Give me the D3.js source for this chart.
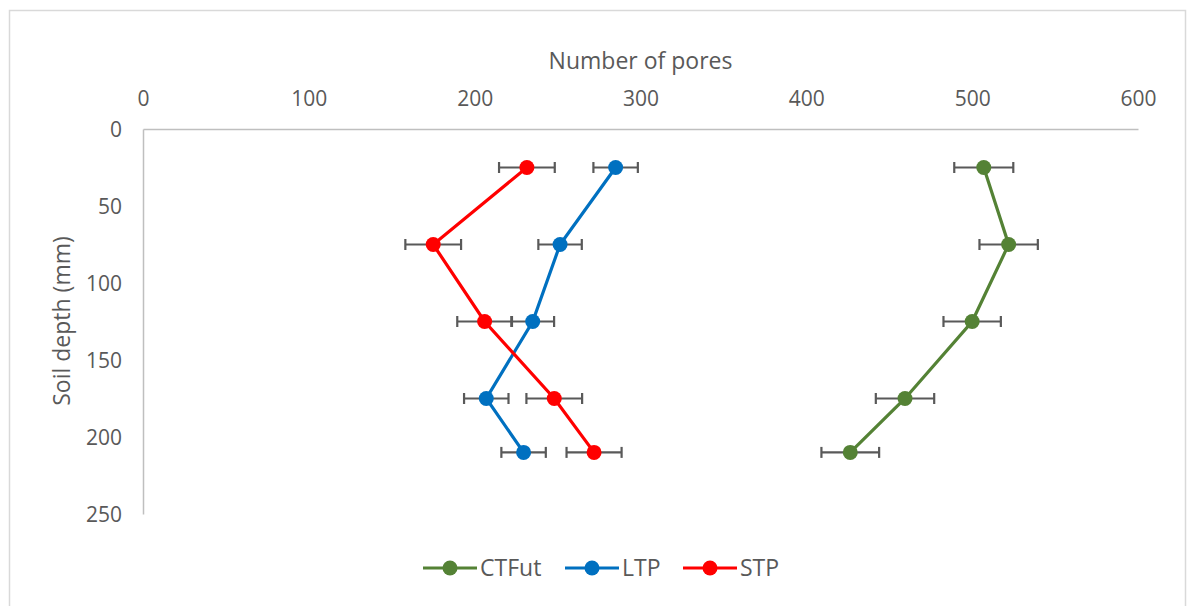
<!DOCTYPE html>
<html>
<head>
<meta charset="utf-8">
<script src="https://cdn.jsdelivr.net/npm/d3@7"></script>
<style>
  body { margin: 0; background: #fff; }
  svg text { font-family: "Open Sans", "Noto Sans", sans-serif; fill: #595959; }
</style>
</head>
<body>
<div id="chart"></div>
<script>
var depths = [25, 75, 125, 175, 210];
var ctfutValues = [507, 522, 500, 459.5, 426.5];
var ctfutErrors = [17.8, 17.6, 17.3, 17.6, 17.4];
var ltpValues = [285, 251.5, 235, 207, 229.5];
var ltpErrors = [13.4, 13.1, 12.9, 13.4, 13.4];
var stpValues = [231.5, 175, 206, 248, 272];
var stpErrors = [16.8, 16.8, 16.5, 16.8, 16.6];
var seriesNames = ["CTFut", "LTP", "STP"];
var seriesColors = ["#548235", "#0070c0", "#ff0000"];
var xTicks = [0, 100, 200, 300, 400, 500, 600];
var yTicks = [0, 50, 100, 150, 200, 250];

var W = 1192, H = 606;
var margin = {top: 129, left: 143, right: 54, bottom: 92};
var width = W - margin.left - margin.right,
    height = H - margin.top - margin.bottom;

var svg = d3.select("#chart").append("svg")
    .attr("width", W)
    .attr("height", H);

// chart frame
svg.append("rect")
    .attr("x", 9.5).attr("y", 10.5)
    .attr("width", 1176).attr("height", 600)
    .attr("fill", "none")
    .attr("stroke", "#d9d9d9")
    .attr("stroke-width", 1.5);

var g = svg.append("g")
    .attr("transform", "translate(" + margin.left + "," + margin.top + ")");

var xScale = d3.scaleLinear().domain([0, 600]).range([0, width]);
var yScale = d3.scaleLinear().domain([0, 250]).range([0, height]);

var xAxis = d3.axisTop(xScale).tickValues(xTicks).tickSize(0).tickPadding(23);
var yAxis = d3.axisLeft(yScale).tickValues(yTicks).tickSize(0).tickPadding(21);

var gx = g.append("g").attr("class", "axis axis--x").call(xAxis);
var gy = g.append("g").attr("class", "axis axis--y").call(yAxis);
[gx, gy].forEach(function(ax) {
    ax.select(".domain").attr("stroke", "#bfbfbf").attr("stroke-width", 1.5);
    ax.selectAll("text").style("font-size", "21px").attr("fill", "#595959")
        .style("font-family", "'Open Sans', sans-serif");
});
gy.selectAll("text").attr("dy", "0.35em");

g.append("text")
    .attr("x", width / 2)
    .attr("y", -60)
    .attr("text-anchor", "middle")
    .style("font-size", "23px")
    .text("Number of pores");

g.append("text")
    .attr("transform", "rotate(-90)")
    .attr("x", -192)
    .attr("y", -73)
    .attr("text-anchor", "middle")
    .style("font-size", "23px")
    .text("Soil depth (mm)");

var series = [
    {id: "CTFut", values: ctfutValues, errors: ctfutErrors},
    {id: "LTP", values: ltpValues, errors: ltpErrors},
    {id: "STP", values: stpValues, errors: stpErrors}
].map(function(s, i) {
    s.color = seriesColors[i];
    s.points = depths.map(function(d, j) {
        return {depth: d, value: s.values[j], err: s.errors[j]};
    });
    return s;
});

var line = d3.line()
    .x(function(d) { return xScale(d.value); })
    .y(function(d) { return yScale(d.depth); });

var capH = 5.5;
series.forEach(function(s) {
    var sg = g.append("g").attr("class", "series");
    var eb = sg.selectAll(".err").data(s.points).enter().append("g")
        .attr("class", "err")
        .attr("stroke", "#595959")
        .attr("stroke-width", 2.2);
    eb.append("line")
        .attr("x1", function(d) { return xScale(d.value - d.err); })
        .attr("x2", function(d) { return xScale(d.value + d.err); })
        .attr("y1", function(d) { return yScale(d.depth); })
        .attr("y2", function(d) { return yScale(d.depth); });
    eb.append("line")
        .attr("x1", function(d) { return xScale(d.value - d.err); })
        .attr("x2", function(d) { return xScale(d.value - d.err); })
        .attr("y1", function(d) { return yScale(d.depth) - capH; })
        .attr("y2", function(d) { return yScale(d.depth) + capH; });
    eb.append("line")
        .attr("x1", function(d) { return xScale(d.value + d.err); })
        .attr("x2", function(d) { return xScale(d.value + d.err); })
        .attr("y1", function(d) { return yScale(d.depth) - capH; })
        .attr("y2", function(d) { return yScale(d.depth) + capH; });

    sg.append("path")
        .attr("d", line(s.points))
        .attr("fill", "none")
        .attr("stroke", s.color)
        .attr("stroke-width", 3.2);
    sg.selectAll("circle").data(s.points).enter().append("circle")
        .attr("cx", function(d) { return xScale(d.value); })
        .attr("cy", function(d) { return yScale(d.depth); })
        .attr("r", 7.5)
        .attr("fill", s.color);
});

// legend
var legendX = [423, 565, 683];
var legend = svg.append("g").attr("class", "legend");
series.forEach(function(s, i) {
    var lg = legend.append("g").attr("transform", "translate(" + legendX[i] + ",568)");
    lg.append("line").attr("x1", 0).attr("x2", 54).attr("y1", 0).attr("y2", 0)
        .attr("stroke", s.color).attr("stroke-width", 3.2);
    lg.append("circle").attr("cx", 27).attr("cy", 0).attr("r", 7.5).attr("fill", s.color);
    lg.append("text").attr("x", 57).attr("dy", "0.35em")
        .style("font-size", "23px").text(seriesNames[i]);
});
</script>
</body>
</html>
